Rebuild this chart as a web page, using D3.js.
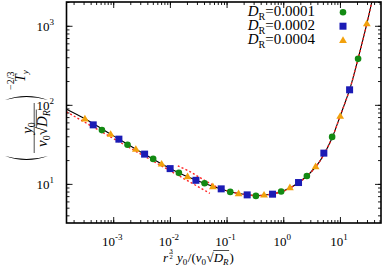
<!DOCTYPE html>
<html>
<head>
<meta charset="utf-8">
<script src="https://cdn.jsdelivr.net/npm/d3@7"></script>
<style>
body{margin:0;background:#fff;}
svg{font-family:"Liberation Serif","DejaVu Serif",serif;}
.curve{fill:none;stroke:#000;stroke-width:1.1px;}
.asym{fill:none;stroke:#f22;stroke-width:1.4px;stroke-dasharray:2,2.2;}
.frame{fill:none;stroke:#000;stroke-width:1.6px;}
</style>
</head>
<body>
<svg id="chart" width="382" height="267"></svg>
<script>
// marker series
var triX = [3.17e-4, 9.0e-4, 2.51e-3, 7.14e-3, 2.05e-2, 5.73e-2, 0.163, 0.458, 1.31, 3.72, 10.1, 29.8];
var triY = [66.5, 42.6, 27.5, 17.9, 12.4, 9.25, 7.53, 7.26, 8.98, 16.6, 71.9, 1069];
var sqX = [4.44e-4, 1.26e-3, 3.58e-3, 1.01e-2, 2.88e-2, 8.04e-2, 0.231, 0.647, 1.86, 5.2, 14.8];
var sqY = [55.8, 36.8, 23.8, 15.6, 11.1, 8.65, 7.26, 7.41, 10.4, 24.5, 155];
var circX = [6.32e-4, 1.79e-3, 5.07e-3, 1.44e-2, 4.09e-2, 0.116, 0.329, 0.918, 2.61, 7.28, 20.9];
var circY = [47.9, 31.2, 20.7, 13.8, 10.2, 7.92, 7.05, 8.0, 12.6, 39.3, 382];

// black theory curve
var curveX = [1.5e-4, 3e-4, 1e-3, 3e-3, 1e-2, 3e-2, 0.1, 0.2, 0.35, 0.6, 1, 2, 4, 7, 10, 15, 20, 30, 38];
var curveY = [88, 68, 40.8, 25.5, 15.7, 11.0, 8.2, 7.4, 7.1, 7.4, 8.1, 10.7, 17.5, 36, 71, 160, 340, 1080, 2300];
// red dashed asymptotes
var asymLX = [1.5e-4, 0.0507];
var asymLY = [81.5, 7.59];
var asymRX = [0.0138, 0.0225, 0.0338, 0.0507, 0.08, 0.2, 0.35, 0.6, 1, 2, 4, 7, 10, 15, 20, 30, 38];
var asymRY = [16.9, 14.3, 12.0, 10.2, 8.6, 7.4, 7.1, 7.4, 8.1, 10.7, 17.5, 36, 71, 160, 340, 1080, 2300];

var legendLabels = ["0.0001", "0.0002", "0.0004"];
var xTickExp = [-3, -2, -1, 0, 1];
var yTickExp = [1, 2, 3];

var L = 66.5, R = 381, T = 2, B = 223;
var svg = d3.select("#chart");
var x = d3.scaleLog().domain([1.5e-4, 53]).range([L, R]);
var y = d3.scaleLog().domain([3.2, 2000]).range([B, T]);

svg.append("clipPath").attr("id", "clip")
  .append("rect").attr("x", L).attr("y", T).attr("width", R - L).attr("height", B - T);

function minors(sc) {
  var d = sc.domain(), out = [];
  for (var e = Math.floor(Math.log10(d[0])); e <= Math.ceil(Math.log10(d[1])); e++) {
    for (var m = 1; m < 10; m++) {
      var v = m * Math.pow(10, e);
      if (v >= d[0] && v <= d[1]) out.push(v);
    }
  }
  return out;
}
var xMaj = xTickExp.map(function(e){ return Math.pow(10, e); });
var yMaj = yTickExp.map(function(e){ return Math.pow(10, e); });

function ax(gen, pos, vals, size) {
  svg.append("g").attr("transform", pos)
    .call(gen.tickValues(vals).tickSize(size).tickFormat(""))
    .call(function(g){ g.select(".domain").remove(); g.selectAll("line").attr("stroke-width", 0.9); });
}
ax(d3.axisBottom(x), "translate(0," + B + ")", minors(x), -3);
ax(d3.axisBottom(x), "translate(0," + B + ")", xMaj, -6);
ax(d3.axisTop(x), "translate(0," + T + ")", minors(x), -3);
ax(d3.axisTop(x), "translate(0," + T + ")", xMaj, -6);
ax(d3.axisLeft(y), "translate(" + L + ",0)", minors(y), -3);
ax(d3.axisLeft(y), "translate(" + L + ",0)", yMaj, -6);
ax(d3.axisRight(y), "translate(" + R + ",0)", minors(y), -3);
ax(d3.axisRight(y), "translate(" + R + ",0)", yMaj, -6);

var plot = svg.append("g").attr("clip-path", "url(#clip)");
var line = d3.line().curve(d3.curveCatmullRom)
  .x(function(d){ return x(d[0]); }).y(function(d){ return y(d[1]); });
plot.append("path").attr("class", "curve").attr("d", line(d3.zip(curveX, curveY)));
plot.append("path").attr("class", "asym").attr("d", line(d3.zip(asymLX, asymLY)));
plot.append("path").attr("class", "asym").attr("d", line(d3.zip(asymRX, asymRY)));

var cols = {c: "#138a13", s: "#1b1bb5", t: "#f2a10c"};
function circ(g, cx, cy) { g.append("circle").attr("cx", cx).attr("cy", cy).attr("r", 3.3).attr("fill", cols.c); }
function sq(g, cx, cy) { g.append("rect").attr("x", cx - 3.5).attr("y", cy - 3.5).attr("width", 7).attr("height", 7).attr("fill", cols.s); }
function tri(g, cx, cy) { g.append("path").attr("d", "M" + cx + "," + (cy - 4) + "L" + (cx + 3.9) + "," + (cy + 2.7) + "L" + (cx - 3.9) + "," + (cy + 2.7) + "Z").attr("fill", cols.t); }

circX.forEach(function(v, i){ circ(plot, x(v), y(circY[i])); });
sqX.forEach(function(v, i){ sq(plot, x(v), y(sqY[i])); });
triX.forEach(function(v, i){ tri(plot, x(v), y(triY[i])); });

svg.append("rect").attr("class", "frame").attr("x", L).attr("y", T).attr("width", R - L).attr("height", B - T);

// tick labels
xTickExp.forEach(function(e){
  var t = svg.append("text").attr("x", x(Math.pow(10, e)) - 1).attr("y", 246).attr("text-anchor", "middle").attr("font-size", 13);
  t.append("tspan").text("10");
  t.append("tspan").attr("font-size", 9).attr("dy", -6).text(e < 0 ? "-" + (-e) : e);
});
yTickExp.forEach(function(e){
  var t = svg.append("text").attr("x", 54).attr("y", y(Math.pow(10, e)) + 5).attr("text-anchor", "end").attr("font-size", 13);
  t.append("tspan").text("10");
  t.append("tspan").attr("font-size", 9).attr("dy", -6).text(e);
});

// legend
var legMark = [circ, sq, tri];
legendLabels.forEach(function(lb, i){
  var by = 16 + i * 14;
  var t = svg.append("text").attr("x", 315).attr("y", by).attr("text-anchor", "end").attr("font-size", 15);
  t.append("tspan").attr("font-style", "italic").text("D");
  t.append("tspan").attr("font-size", 10).attr("dy", 4).text("R");
  t.append("tspan").attr("dy", -4).text("=" + lb);
  legMark[i](svg, 343, by - 3.8);
});

// math row helper: pieces laid out left to right, returns their extents
function row(g, x0, base, parts) {
  var cx = x0, pos = [];
  parts.forEach(function(p){
    var t = g.append("text").attr("x", cx + (p.dx || 0)).attr("y", base + (p.dy || 0))
      .attr("font-size", p.fs || 13).attr("font-style", p.it ? "italic" : null).text(p.s);
    var w = t.node().getComputedTextLength();
    pos.push([cx + (p.dx || 0), cx + (p.dx || 0) + w]);
    cx += w + (p.dx || 0);
  });
  return {g: g, end: cx, pos: pos};
}
function rule(g, x1, x2, yy, w) {
  g.append("line").attr("x1", x1).attr("x2", x2).attr("y1", yy).attr("y2", yy)
    .attr("stroke", "#000").attr("stroke-width", w || 0.7);
}

// x label
var xl = svg.append("g");
var r0 = row(xl, 163, 262, [{s: "r", it: 1}]);
xl.append("text").attr("x", r0.end + 3).attr("y", 252.5).attr("font-size", 6.5).attr("text-anchor", "middle").text("3");
rule(xl, r0.end + 1, r0.end + 5, 253.5, 0.5);
xl.append("text").attr("x", r0.end + 3).attr("y", 259).attr("font-size", 6.5).attr("text-anchor", "middle").text("2");
var r1 = row(xl, r0.end + 9, 262, [
  {s: "y", it: 1}, {s: "0", fs: 9, dy: 3}, {s: "/(", dx: 0.5}, {s: "v", it: 1}, {s: "0", fs: 9, dy: 3},
  {s: "\u221A", dx: 0.5}, {s: "D", it: 1}, {s: "R", it: 1, fs: 9, dy: 3}, {s: ")", dx: 1}
]);
rule(xl, r1.pos[5][1] - 0.5, r1.pos[7][1] + 0.5, 250.5);

// y label, drawn in a rotated frame: local x runs bottom-to-top, local y = screen x
var yl = svg.append("g").attr("transform", "translate(0,163) rotate(-90)");
function paren(g, a, top, bot, open) {
  var mid = (top + bot) / 2, s = open ? 1 : -1, e = a + s * 6;
  g.append("path").attr("fill", "#000")
    .attr("d", "M" + e + "," + top + "Q" + (a - s * 2.2) + "," + mid + " " + e + "," + bot +
               "Q" + (a - s * 0.2) + "," + mid + " " + e + "," + top + "Z");
}
paren(yl, 1, 5, 48, true);
var denG = yl.append("g");
var den = row(denG, 0, 47, [{s: "v", it: 1, fs: 15}, {s: "0", fs: 10, dy: 3}, {s: "\u221A", fs: 15}, {s: "D", it: 1, fs: 15}, {s: "R", it: 1, fs: 10, dy: 3}]);
rule(denG, den.pos[2][1] - 0.5, den.pos[4][1] + 0.5, 36.3);
denG.attr("transform", "translate(" + (34.5 - den.end / 2) + ",0)");
rule(yl, 10, 60, 34.2);
var numG = yl.append("g");
var num = row(numG, 0, 31.5, [{s: "y", it: 1, fs: 15}, {s: "0", fs: 10, dy: 3}]);
numG.attr("transform", "translate(" + (35 - num.end / 2) + ",0)");
paren(yl, 69, 5, 48, false);
row(yl, 73, 14, [{s: "\u22122/3", fs: 10}]);
row(yl, 81, 25, [{s: "T", it: 1, fs: 14}, {s: "y", it: 1, fs: 9, dy: 3}]);
</script>
</body>
</html>
